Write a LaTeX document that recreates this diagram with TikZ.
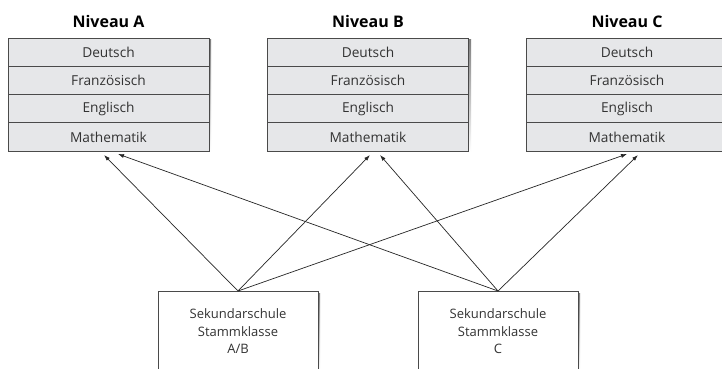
\documentclass[tikz,border=0pt]{standalone}
\usepackage{fontspec}
\setmainfont{Open Sans}
\usetikzlibrary{arrows.meta}
\definecolor{rowfill}{HTML}{E6E7E9}
\definecolor{edge}{HTML}{4A4A4A}
\definecolor{shade}{HTML}{A8A8A8}
\begin{document}
\begin{tikzpicture}[x=1pt,y=-1pt,
  row/.style={draw=edge, line width=0.8pt, fill=rowfill, minimum width=201pt, minimum height=28.25pt, inner sep=0pt, font=\fontsize{13.7}{16}\selectfont, text=black!80},
  title/.style={font=\bfseries\fontsize{16}{18}\selectfont},
  lowbox/.style={draw=edge, line width=0.8pt, fill=white, minimum width=160pt, minimum height=80pt, anchor=north, align=center, inner sep=0pt, font=\fontsize{13}{17.5}\selectfont, text=black!80},
  link/.style={draw=black!85, line width=0.7pt, -{Latex[length=6pt,width=4pt]}}]
\clip (0,0) rectangle (722,368);
\fill[white] (0,0) rectangle (722,368);
% shadows
\foreach \x in {8,268,528}{\fill[shade] (\x+2,39.5) rectangle (\x+203,152);}
\fill[shade] (160,293) rectangle (320,372);
\fill[shade] (420,293) rectangle (580,372);
% level columns
\foreach \c/\x in {A/108.5,B/368,C/627}{
  \node[title] (t\c) at (\x,21) {Niveau \c};
  \node[row] (\c1) at (\x,52.1) {Deutsch};
  \node[row] (\c2) at (\x,80.4) {Französisch};
  \node[row] (\c3) at (\x,108.6) {Englisch};
  \node[row] (\c4) at (\x,136.9) {Mathematik};
}
% school boxes
\node[lowbox] (sab) at (238,291) {Sekundarschule\\Stammklasse\\A/B};
\node[lowbox] (sc) at (498,291) {Sekundarschule\\Stammklasse\\C};
% arrow targets
\coordinate (aL) at (104,155);
\coordinate (aR) at (118,154);
\coordinate (bL) at (370,155);
\coordinate (bR) at (380,155);
\coordinate (cL) at (627,154);
\coordinate (cR) at (638,155);
\draw[link] (sab.north) -- (aL);
\draw[link] (sab.north) -- (bL);
\draw[link] (sab.north) -- (cL);
\draw[link] (sc.north) -- (aR);
\draw[link] (sc.north) -- (bR);
\draw[link] (sc.north) -- (cR);
\end{tikzpicture}
\end{document}
